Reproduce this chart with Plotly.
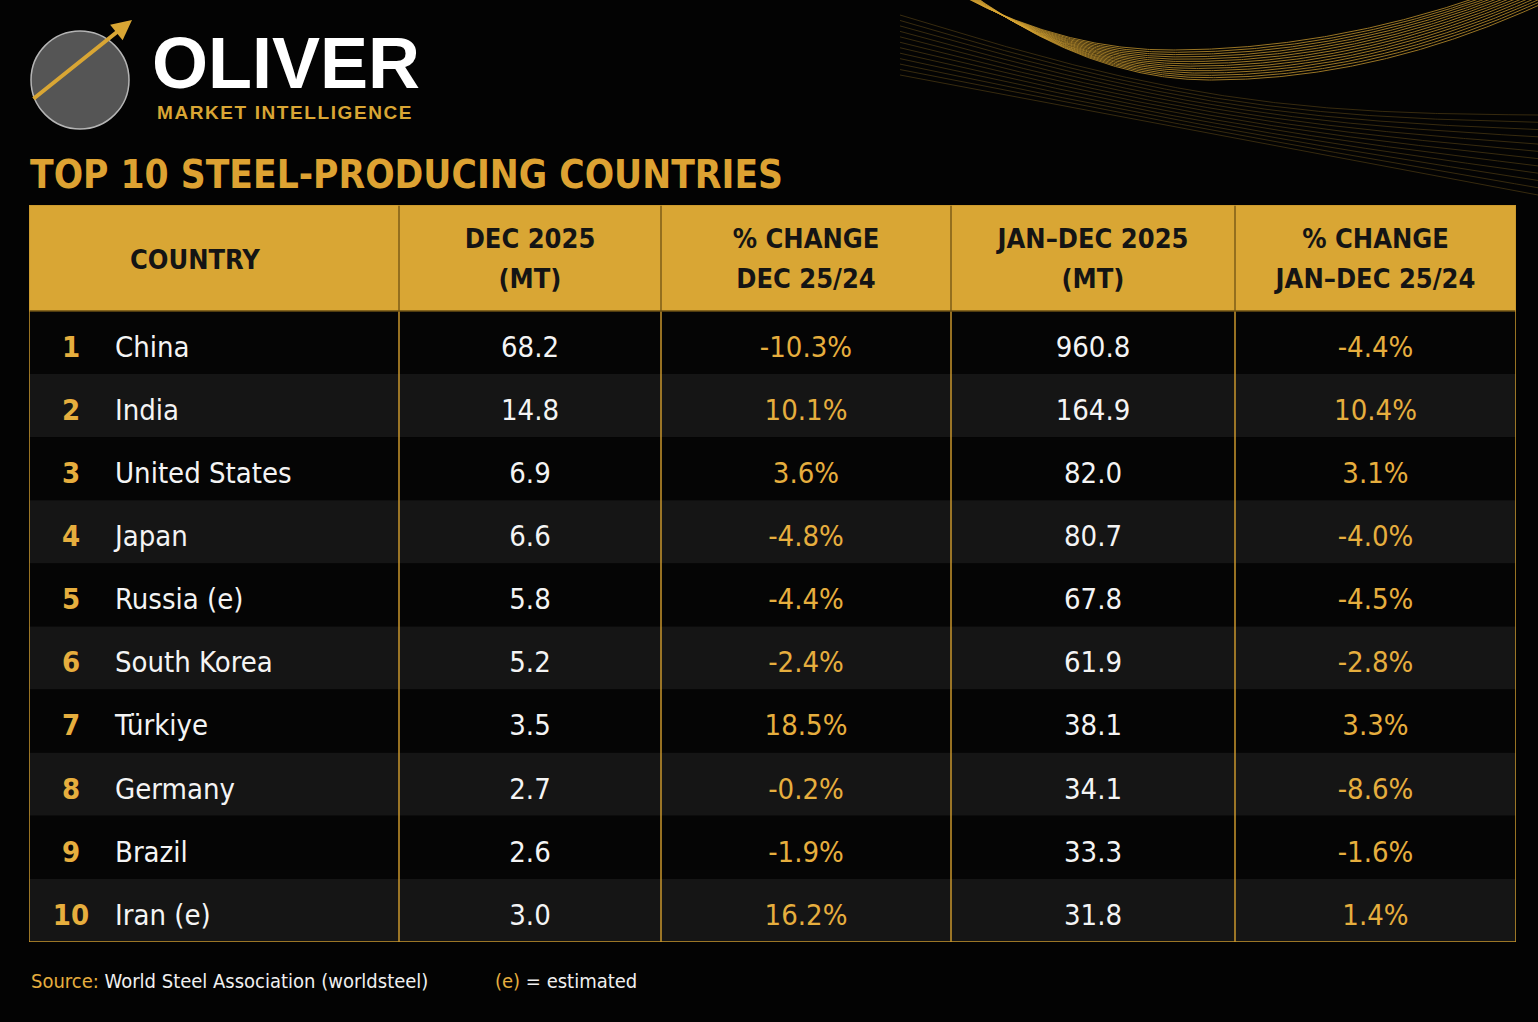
import numpy as np
import plotly.graph_objects as go

# ---- data ----
ranks = [1, 2, 3, 4, 5, 6, 7, 8, 9, 10]
countries = ["China", "India", "United States", "Japan", "Russia (e)",
             "South Korea", "Türkiye", "Germany", "Brazil", "Iran (e)"]
dec_2025 = [68.2, 14.8, 6.9, 6.6, 5.8, 5.2, 3.5, 2.7, 2.6, 3.0]
dec_change = [-10.3, 10.1, 3.6, -4.8, -4.4, -2.4, 18.5, -0.2, -1.9, 16.2]
ytd_2025 = [960.8, 164.9, 82.0, 80.7, 67.8, 61.9, 38.1, 34.1, 33.3, 31.8]
ytd_change = [-4.4, 10.4, 3.1, -4.0, -4.5, -2.8, 3.3, -8.6, -1.6, 1.4]
header_top = ["DEC 2025", "% CHANGE", "JAN\u2013DEC 2025", "% CHANGE"]
header_bottom = ["(MT)", "DEC 25/24", "(MT)", "JAN\u2013DEC 25/24"]

# ---- style ----
W, H = 1538, 1022
BG = "#030303"
GOLD = "#D9A634"
GOLD_TXT = "#E6AE3E"
NARROW = "DejaVu Sans Condensed, Liberation Sans Narrow, sans-serif"
WIDE = "Liberation Sans, Arial, sans-serif"

col_w = [370, 262, 290, 284, 281]
edges = np.concatenate([[0], np.cumsum(col_w)])
centers = (edges[:-1] + edges[1:]) / 2
head_h = 106
row_h = 63.1
tab_h = head_h + row_h * len(countries)
tab_left, tab_top = 29, 205

row_y = [head_h + row_h * (i + 0.5) + 7 for i in range(len(countries))]

fig = go.Figure()

# decorative gold waves (top right), drawn on a full-page helper axis
xs = np.linspace(900, 1538, 300)
for k in range(14):
    t = k / 13
    xc = 1170 + 40 * t
    ym = 50 + 30 * t
    wl, wr = 200 + 30 * t, 300 + 40 * t
    w = np.where(xs < xc, wl, wr)
    y = ym * (1 - ((xs - xc) / w) ** 2)
    fig.add_trace(go.Scatter(x=xs, y=y, mode="lines", xaxis="x2", yaxis="y2",
                             line=dict(color=GOLD, width=1), opacity=0.7,
                             hoverinfo="skip", showlegend=False))
for k in range(12):
    t = k / 11
    s = (xs - 900) / 638
    y = (15 + 60 * t) + (100 + 20 * t) * s + 30 * np.sin(np.pi * s) * (1 - t)
    fig.add_trace(go.Scatter(x=xs, y=y, mode="lines", xaxis="x2", yaxis="y2",
                             line=dict(color=GOLD, width=0.8), opacity=0.3,
                             hoverinfo="skip", showlegend=False))

# ---- table body text ----
fig.add_trace(go.Scatter(x=[42] * len(ranks), y=row_y, mode="text",
                         text=[str(r) for r in ranks], textposition="middle center",
                         textfont=dict(family=NARROW, size=29, color=GOLD_TXT, weight="bold"),
                         hoverinfo="skip", showlegend=False))
fig.add_trace(go.Scatter(x=[86] * len(countries), y=row_y, mode="text",
                         text=countries, textposition="middle right",
                         textfont=dict(family=NARROW, size=29, color="#F4F4F4"),
                         hoverinfo="skip", showlegend=False))
value_cols = [
    ([f"{v:.1f}" for v in dec_2025], "#F4F4F4"),
    ([f"{v:.1f}%" for v in dec_change], GOLD_TXT),
    ([f"{v:.1f}" for v in ytd_2025], "#F4F4F4"),
    ([f"{v:.1f}%" for v in ytd_change], GOLD_TXT),
]
for j, (vals, colr) in enumerate(value_cols):
    fig.add_trace(go.Scatter(x=[centers[j + 1]] * len(vals), y=row_y, mode="text",
                             text=vals, textposition="middle center",
                             textfont=dict(family=NARROW, size=29, color=colr),
                             hoverinfo="skip", showlegend=False))

# header text
head_font = dict(family=NARROW, size=27, color="#141414", weight="bold")
fig.add_trace(go.Scatter(x=[166], y=[57], mode="text", text=["COUNTRY"],
                         textposition="middle center", textfont=head_font,
                         hoverinfo="skip", showlegend=False))
fig.add_trace(go.Scatter(x=centers[1:], y=[36] * len(header_top), mode="text",
                         text=header_top, textposition="middle center", textfont=head_font,
                         hoverinfo="skip", showlegend=False))
fig.add_trace(go.Scatter(x=centers[1:], y=[76] * len(header_bottom), mode="text",
                         text=header_bottom, textposition="middle center", textfont=head_font,
                         hoverinfo="skip", showlegend=False))

# ---- table shapes ----
shapes = []
shapes.append(dict(type="rect", xref="x", yref="y", x0=0, x1=edges[-1], y0=0, y1=head_h,
                   fillcolor=GOLD, line_width=0, layer="below"))
for i in range(len(countries)):
    shapes.append(dict(type="rect", xref="x", yref="y", x0=0, x1=edges[-1],
                       y0=head_h + row_h * i, y1=head_h + row_h * (i + 1),
                       fillcolor="#151515" if i % 2 else "#050505",
                       line_width=0, layer="below"))
for e in edges[1:-1]:
    shapes.append(dict(type="line", xref="x", yref="y", x0=e, x1=e, y0=0, y1=head_h,
                       line=dict(color="#7d5c17", width=1.5)))
    shapes.append(dict(type="line", xref="x", yref="y", x0=e, x1=e, y0=head_h, y1=tab_h,
                       line=dict(color="#C8962C", width=1.5)))
shapes.append(dict(type="line", xref="x", yref="y", x0=0, x1=edges[-1], y0=head_h, y1=head_h,
                   line=dict(color="#6a4f15", width=1.5)))
shapes.append(dict(type="rect", xref="x", yref="y", x0=0, x1=edges[-1], y0=0, y1=tab_h,
                   line=dict(color="#C8962C", width=1.5)))

# logo globe + arrow
shapes.append(dict(type="circle", xref="paper", yref="paper",
                   x0=31 / W, x1=129 / W, y0=1 - 129 / H, y1=1 - 31 / H,
                   fillcolor="#555555", line=dict(color="#b5b5b5", width=1.5)))

annotations = [
    dict(x=132 / W, y=1 - 20 / H, ax=-100, ay=80, xref="paper", yref="paper",
         showarrow=True, arrowhead=2, arrowsize=1, arrowwidth=4, arrowcolor="#D9A634", text=""),
    dict(x=150 / W, y=1 - 63 / H, xref="paper", yref="paper", xanchor="left", yanchor="middle",
         text="OLIVER", showarrow=False,
         font=dict(family=WIDE, size=72, color="#FFFFFF", weight="bold")),
    dict(x=155 / W, y=1 - 112 / H, xref="paper", yref="paper", xanchor="left", yanchor="middle",
         text="\u200a".join("MARKET INTELLIGENCE"), showarrow=False,
         font=dict(family=WIDE, size=19, color=GOLD, weight="bold")),
    dict(x=28 / W, y=1 - 174 / H, xref="paper", yref="paper", xanchor="left", yanchor="middle",
         text="TOP 10 STEEL-PRODUCING COUNTRIES", showarrow=False,
         font=dict(family=NARROW, size=38.5, color="#DDA232", weight="bold")),
    dict(x=29 / W, y=1 - 981 / H, xref="paper", yref="paper", xanchor="left", yanchor="middle",
         text=f"<span style='color:{GOLD_TXT}'>Source:</span> World Steel Association (worldsteel)",
         showarrow=False, font=dict(family=NARROW, size=20, color="#F0F0F0")),
    dict(x=493 / W, y=1 - 981 / H, xref="paper", yref="paper", xanchor="left", yanchor="middle",
         text=f"<span style='color:{GOLD_TXT}'>(e)</span> = estimated",
         showarrow=False, font=dict(family=NARROW, size=20, color="#F0F0F0")),
]

fig.update_layout(
    width=W, height=H,
    margin=dict(l=0, r=0, t=0, b=0),
    paper_bgcolor=BG, plot_bgcolor="rgba(0,0,0,0)",
    xaxis=dict(range=[0, edges[-1]], domain=[tab_left / W, (tab_left + edges[-1]) / W],
               visible=False, fixedrange=True),
    yaxis=dict(range=[tab_h, 0], domain=[1 - (tab_top + tab_h) / H, 1 - tab_top / H],
               visible=False, fixedrange=True),
    xaxis2=dict(range=[0, W], domain=[0, 1], visible=False, fixedrange=True, anchor="y2"),
    yaxis2=dict(range=[H, 0], domain=[0, 1], visible=False, fixedrange=True, anchor="x2"),
    shapes=shapes,
    annotations=annotations,
    showlegend=False,
)

fig.write_html("out.html", config={"displayModeBar": False},
               post_script="document.body.style.margin='0';document.body.style.background='#030303';")
